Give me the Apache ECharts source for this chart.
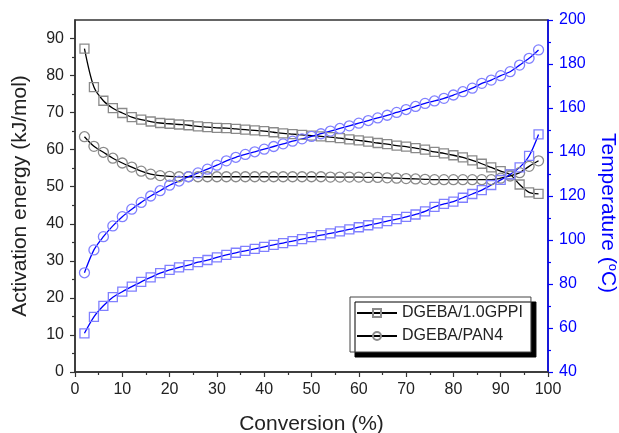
<!DOCTYPE html>
<html>
<head>
<meta charset="utf-8">
<script src="https://cdn.jsdelivr.net/npm/echarts@6/dist/echarts.min.js"></script>
<style>
  html, body { margin: 0; padding: 0; background: #fff; }
  #chart { width: 619px; height: 433px; }
</style>
</head>
<body>
<div id="chart"></div>
<script>
// conversion (%)
const conversion = [2, 4, 6, 8, 10, 12, 14, 16, 18, 20, 22, 24, 26, 28, 30, 32, 34, 36, 38, 40,
  42, 44, 46, 48, 50, 52, 54, 56, 58, 60, 62, 64, 66, 68, 70, 72, 74, 76, 78, 80,
  82, 84, 86, 88, 90, 92, 94, 96, 98];

// activation energy (kJ/mol)
const eaGppi = [87.3, 76.9, 73.2, 71.2, 69.9, 68.8, 68.1, 67.6, 67.2, 67.0, 66.8, 66.6, 66.3, 66.1, 65.9, 65.8, 65.6, 65.4, 65.2, 65.0,
  64.7, 64.4, 64.2, 64.0, 63.8, 63.6, 63.4, 63.1, 62.8, 62.5, 62.2, 61.8, 61.5, 61.1, 60.8, 60.4, 60.0, 59.4, 59.0, 58.5,
  57.9, 57.1, 56.2, 55.2, 54.2, 53.3, 50.6, 48.5, 48.1];
const eaPan4 = [63.5, 60.9, 59.3, 57.7, 56.4, 55.3, 54.2, 53.4, 53.0, 52.8, 52.7, 52.7, 52.7, 52.7, 52.7, 52.7, 52.7, 52.7, 52.7, 52.7,
  52.7, 52.7, 52.7, 52.7, 52.7, 52.7, 52.6, 52.6, 52.6, 52.6, 52.5, 52.5, 52.4, 52.3, 52.2, 52.1, 52.0, 51.9, 51.9, 51.9,
  51.9, 51.9, 51.9, 51.9, 52.3, 52.9, 53.8, 55.5, 57.0];

// temperature (°C)
const tempGppi = [57.6, 65.1, 70.1, 74.0, 76.5, 78.8, 81.0, 83.0, 84.9, 86.4, 87.6, 88.6, 89.9, 90.9, 92.1, 93.2, 94.2, 95.1, 96.0, 96.9,
  97.8, 98.6, 99.5, 100.4, 101.3, 102.2, 103.0, 103.9, 104.8, 105.8, 106.7, 107.6, 108.6, 109.5, 110.5, 111.6, 113.0, 115.1, 116.4, 117.4,
  119.2, 120.9, 122.7, 125.0, 127.3, 129.8, 133.0, 138.2, 148.0];
const tempPan4 = [85.1, 95.5, 101.5, 106.4, 110.6, 114.0, 117.1, 120.0, 122.4, 124.9, 126.8, 128.8, 130.5, 132.2, 134.0, 136.0, 137.6, 138.9, 140.1, 141.3,
  142.5, 143.7, 144.9, 146.0, 147.1, 148.3, 149.5, 150.7, 151.9, 153.1, 154.3, 155.5, 156.7, 158.0, 159.3, 160.7, 162.1, 163.2, 164.4, 165.9,
  167.4, 169.0, 171.2, 172.7, 174.7, 176.5, 179.5, 182.6, 186.4];

const leftTicks = [0, 10, 20, 30, 40, 50, 60, 70, 80, 90];

function pairs(ys) {
  return conversion.map((x, i) => [x, ys[i]]);
}

const chart = echarts.init(document.getElementById('chart'));
const font = 'Liberation Sans, Arial, sans-serif';

chart.setOption({
  animation: false,
  textStyle: { fontFamily: font },
  grid: {
    left: 75, right: 71, top: 20, bottom: 61,
    outerBoundsMode: 'none', containLabel: false,
    show: true, borderColor: '#333', borderWidth: 1.5, backgroundColor: 'transparent'
  },
  legend: {
    data: ['DGEBA/1.0GPPI', 'DGEBA/PAN4'],
    orient: 'vertical',
    left: 350, top: 297,
    itemWidth: 40, itemHeight: 10, itemGap: 7,
    padding: [8, 8, 8, 6],
    backgroundColor: '#fff',
    borderColor: '#444', borderWidth: 1,
    shadowColor: '#000', shadowBlur: 0, shadowOffsetX: 5, shadowOffsetY: 5,
    textStyle: { fontSize: 16, color: '#222', fontFamily: font }
  },
  xAxis: {
    type: 'value', min: 0, max: 100, interval: 10,
    name: 'Conversion (%)', nameLocation: 'middle', nameGap: 42,
    nameTextStyle: { fontSize: 21, color: '#222' },
    axisLine: { lineStyle: { color: '#333', width: 1.5 } },
    axisTick: { inside: false, length: 5, lineStyle: { color: '#333', width: 1.2 } },
    minorTick: { show: true, splitNumber: 2, length: 3, lineStyle: { color: '#333', width: 1.2 } },
    axisLabel: { fontSize: 16, color: '#222', margin: 10 },
    splitLine: { show: false }
  },
  yAxis: [
    {
      type: 'value', min: 0, max: 95, interval: 10, position: 'left',
      name: 'Activation energy (kJ/mol)', nameLocation: 'middle', nameGap: 44,
      nameTextStyle: { fontSize: 21, color: '#222' },
      axisLine: { show: true, lineStyle: { color: '#333', width: 1.5 } },
      axisTick: { length: 5, customValues: leftTicks, lineStyle: { color: '#333', width: 1.2 } },
      minorTick: { show: true, splitNumber: 2, length: 3, lineStyle: { color: '#333', width: 1.2 } },
      axisLabel: {
        fontSize: 16, color: '#222', margin: 11, customValues: leftTicks,
        formatter: v => (v % 10 === 0 ? String(v) : '')
      },
      splitLine: { show: false }
    },
    {
      type: 'value', min: 40, max: 200, interval: 20, position: 'right',
      name: 'Temperature ({sup|o}C)', nameLocation: 'middle', nameGap: 49, nameRotate: -90,
      nameTextStyle: {
        fontSize: 21, color: '#0000ff', padding: [0, 0, 0, 34],
        rich: { sup: { fontSize: 13, color: '#0000ff', verticalAlign: 'top', padding: [0, 0, 9, 0] } }
      },
      axisLine: { show: true, lineStyle: { color: '#0000ff', width: 1.5 } },
      axisTick: { length: 5, lineStyle: { color: '#0000ff', width: 1.2 } },
      minorTick: { show: true, splitNumber: 2, length: 3, lineStyle: { color: '#0000ff', width: 1.2 } },
      axisLabel: { fontSize: 16, color: '#0000ff', margin: 11 },
      splitLine: { show: false }
    }
  ],
  series: [
    {
      name: 'DGEBA/1.0GPPI', type: 'line', yAxisIndex: 0, data: pairs(eaGppi),
      smooth: 0.3, symbol: 'rect', symbolSize: 9, showAllSymbol: true,
      lineStyle: { color: '#000', width: 1.3 },
      itemStyle: { color: 'transparent', borderColor: '#8a8a8a', borderWidth: 1.3 }
    },
    {
      name: 'DGEBA/PAN4', type: 'line', yAxisIndex: 0, data: pairs(eaPan4),
      smooth: 0.3, symbol: 'circle', symbolSize: 10, showAllSymbol: true,
      lineStyle: { color: '#000', width: 1.3 },
      itemStyle: { color: 'transparent', borderColor: '#8a8a8a', borderWidth: 1.3 }
    },
    {
      name: 'T 1.0GPPI', type: 'line', yAxisIndex: 1, data: pairs(tempGppi),
      smooth: 0.3, symbol: 'rect', symbolSize: 9, showAllSymbol: true,
      lineStyle: { color: '#0000ff', width: 1.3 },
      itemStyle: { color: 'transparent', borderColor: '#8080ff', borderWidth: 1.3 }
    },
    {
      name: 'T PAN4', type: 'line', yAxisIndex: 1, data: pairs(tempPan4),
      smooth: 0.3, symbol: 'circle', symbolSize: 10, showAllSymbol: true,
      lineStyle: { color: '#0000ff', width: 1.3 },
      itemStyle: { color: 'transparent', borderColor: '#8080ff', borderWidth: 1.3 }
    }
  ]
});
</script>
</body>
</html>
